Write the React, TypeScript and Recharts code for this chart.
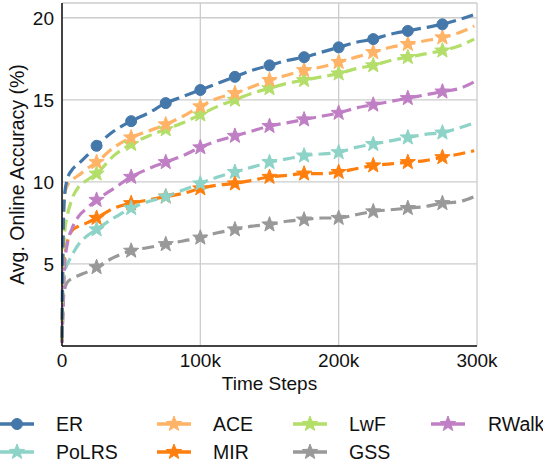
import { LineChart, Line, XAxis, YAxis, CartesianGrid } from "recharts";

const steps = [
  0, 1000, 2000, 4000, 7000, 12000, 18000, 25000, 37500, 50000, 62500, 75000, 87500, 100000,
  112500, 125000, 137500, 150000, 162500, 175000, 187500, 200000, 212500, 225000, 237500,
  250000, 262500, 275000, 287500, 298000,
];

const er = [
  0.5, 7.5, 9.3, 10.2, 10.7, 11.1, 11.6, 12.2, 13.1, 13.7, 14.2, 14.8, 15.2, 15.6, 16.0, 16.4,
  16.8, 17.1, 17.4, 17.6, 17.9, 18.2, 18.5, 18.7, 19.0, 19.2, 19.4, 19.6, 19.9, 20.2,
];
const ace = [
  0.5, 7.5, 9.3, 9.8, 10.1, 10.4, 10.8, 11.2, 12.1, 12.7, 13.1, 13.5, 14.0, 14.6, 15.1, 15.4,
  15.8, 16.2, 16.5, 16.8, 17.0, 17.3, 17.6, 17.9, 18.2, 18.4, 18.6, 18.8, 19.1, 19.5,
];
const lwf = [
  0.4, 5.5, 7.0, 8.0, 8.9, 9.7, 10.1, 10.5, 11.6, 12.3, 12.8, 13.2, 13.6, 14.1, 14.6, 15.0,
  15.4, 15.7, 16.0, 16.2, 16.4, 16.6, 16.9, 17.1, 17.4, 17.6, 17.8, 18.0, 18.3, 18.7,
];
const rwalk = [
  0.2, 3.0, 5.0, 6.3, 7.1, 7.9, 8.4, 8.9, 9.6, 10.3, 10.8, 11.2, 11.6, 12.1, 12.5, 12.8,
  13.1, 13.4, 13.6, 13.8, 14.0, 14.2, 14.5, 14.7, 14.9, 15.1, 15.3, 15.5, 15.7, 16.1,
];
const polrs = [
  0.3, 3.5, 4.5, 5.0, 5.5, 6.2, 6.7, 7.1, 7.8, 8.4, 8.8, 9.1, 9.5, 9.9, 10.3, 10.6,
  10.9, 11.2, 11.4, 11.6, 11.7, 11.8, 12.1, 12.3, 12.5, 12.7, 12.9, 13.0, 13.3, 13.6,
];
const mir = [
  0.3, 4.0, 5.5, 6.4, 7.0, 7.3, 7.5, 7.8, 8.4, 8.7, 8.9, 9.1, 9.3, 9.6, 9.8, 9.9,
  10.1, 10.3, 10.4, 10.5, 10.5, 10.6, 10.8, 11.0, 11.1, 11.2, 11.3, 11.5, 11.7, 11.9,
];
const gss = [
  0.2, 2.8, 3.5, 3.9, 4.1, 4.3, 4.5, 4.8, 5.4, 5.8, 6.0, 6.2, 6.4, 6.6, 6.9, 7.1,
  7.3, 7.4, 7.6, 7.7, 7.8, 7.8, 8.0, 8.2, 8.3, 8.4, 8.5, 8.7, 8.8, 9.1,
];

const xTicks = [0, 100000, 200000, 300000];
const yTicks = [5, 10, 15, 20];

const series = [
  { key: "ER", values: er, color: "#4477aa", marker: "circle" },
  { key: "ACE", values: ace, color: "#ffb366", marker: "star" },
  { key: "LwF", values: lwf, color: "#b3de69", marker: "star" },
  { key: "RWalk", values: rwalk, color: "#c07fc4", marker: "star" },
  { key: "PoLRS", values: polrs, color: "#8dd3c7", marker: "star" },
  { key: "MIR", values: mir, color: "#ff7f0e", marker: "star" },
  { key: "GSS", values: gss, color: "#999999", marker: "star" },
];

// legend order (two rows of four)
const legendOrder = ["ER", "ACE", "LwF", "RWalk", "PoLRS", "MIR", "GSS"];

const data = steps.map((s, i) => {
  const row: Record<string, number> = { step: s };
  series.forEach((sr) => (row[sr.key] = sr.values[i]));
  return row;
});

const FONT = "'Liberation Sans', Arial, sans-serif";

function starPath(cx: number, cy: number, R: number) {
  const r = R * 0.42;
  let d = "";
  for (let i = 0; i < 10; i++) {
    const a = -Math.PI / 2 + (i * Math.PI) / 5;
    const rad = i % 2 === 0 ? R : r;
    d += (i === 0 ? "M" : "L") + (cx + rad * Math.cos(a)).toFixed(2) + "," + (cy + rad * Math.sin(a)).toFixed(2);
  }
  return d + "Z";
}

function Marker({ cx, cy, kind, color }: { cx: number; cy: number; kind: string; color: string }) {
  if (kind === "circle") return <circle cx={cx} cy={cy} r={5.5} fill={color} stroke={color} />;
  return <path d={starPath(cx, cy, 8)} fill={color} stroke={color} strokeWidth={1} strokeLinejoin="round" />;
}

const makeDot = (kind: string, color: string, name: string) => (props: any) => {
  const { cx, cy, payload, index } = props;
  const s = payload.step;
  if (s > 0 && s < 300000 && s % 25000 === 0) {
    return <Marker key={`${name}-${index}`} cx={cx} cy={cy} kind={kind} color={color} />;
  }
  return <g key={`${name}-${index}`} />;
};

const fmtK = (v: number) => (v === 0 ? "0" : `${v / 1000}k`);

function LegendBox() {
  const cols = [
    { line: 0, text: 56 },
    { line: 157, text: 213 },
    { line: 293, text: 349 },
    { line: 431, text: 488 },
  ];
  const rows = [24, 52];
  return (
    <svg width={543} height={63} style={{ position: "absolute", left: 0, top: 400 }}>
      {legendOrder.map((k, i) => {
        const sr = series.find((s) => s.key === k)!;
        const c = cols[i % 4];
        const y = rows[Math.floor(i / 4)];
        return (
          <g key={k}>
            <line x1={c.line} x2={c.line + 34} y1={y} y2={y} stroke={sr.color} strokeWidth={3.5} />
            <Marker cx={c.line + 17} cy={y} kind={sr.marker} color={sr.color} />
            <text x={c.text} y={y} dominantBaseline="central" fontSize={19.5} fontFamily={FONT} fill="#111">
              {k}
            </text>
          </g>
        );
      })}
    </svg>
  );
}

export default function App() {
  return (
    <div style={{ position: "absolute", left: 0, top: 0, width: 543, height: 463, background: "#fff" }}>
      <LineChart
        width={543}
        height={400}
        data={data}
        margin={{ top: 3, right: 66, left: 0, bottom: 0 }}
      >
        <CartesianGrid stroke="#cccccc" strokeWidth={1.3} />
        <XAxis
          dataKey="step"
          type="number"
          domain={[0, 300000]}
          ticks={xTicks}
          tickFormatter={fmtK}
          tickLine={false}
          axisLine={{ stroke: "#111", strokeWidth: 1.5 }}
          tick={{ fontSize: 19, fill: "#111", fontFamily: FONT }}
          height={54}
          label={{ value: "Time Steps", position: "insideBottom", offset: 10, fontSize: 19, fill: "#111", fontFamily: FONT }}
        />
        <XAxis
          xAxisId="top"
          orientation="top"
          dataKey="step"
          type="number"
          domain={[0, 300000]}
          height={0}
          tick={false}
          tickLine={false}
          axisLine={{ stroke: "#111", strokeWidth: 1.5 }}
        />
        <YAxis
          type="number"
          domain={[0, 20.9]}
          ticks={yTicks}
          tickLine={false}
          axisLine={{ stroke: "#111", strokeWidth: 1.5 }}
          tick={{ fontSize: 19, fill: "#111", fontFamily: FONT }}
          width={62}
          label={{
            value: "Avg. Online Accuracy (%)",
            angle: -90,
            position: "insideLeft",
            offset: 17,
            style: { textAnchor: "middle" },
            fontSize: 19.5,
            fill: "#111",
            fontFamily: FONT,
          }}
        />
        <YAxis
          yAxisId="right"
          orientation="right"
          type="number"
          domain={[0, 20.9]}
          width={0}
          tick={false}
          tickLine={false}
          axisLine={{ stroke: "#111", strokeWidth: 1.5 }}
        />
        {[...series].reverse().map((sr) => (
          <Line
            key={sr.key}
            dataKey={sr.key}
            type="monotone"
            stroke={sr.color}
            strokeWidth={3.2}
            strokeDasharray="12 6"
            dot={makeDot(sr.marker, sr.color, sr.key)}
            activeDot={false}
            isAnimationActive={false}
          />
        ))}
      </LineChart>
      <LegendBox />
    </div>
  );
}
